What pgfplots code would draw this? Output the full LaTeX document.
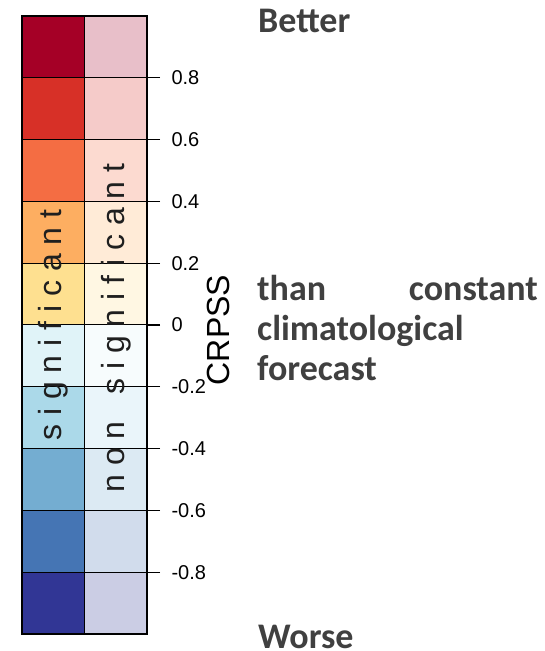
\documentclass[border=0pt]{standalone}
\usepackage{pgfplots}
\pgfplotsset{compat=1.18}
\usepackage{fontspec}
\setmainfont{Liberation Sans}
\newfontfamily\carlito{Carlito}
\definecolor{c1}{HTML}{A50026}
\definecolor{c2}{HTML}{D73027}
\definecolor{c3}{HTML}{F46D43}
\definecolor{c4}{HTML}{FDAE61}
\definecolor{c5}{HTML}{FEE090}
\definecolor{c6}{HTML}{E0F3F8}
\definecolor{c7}{HTML}{ABD9E9}
\definecolor{c8}{HTML}{74ADD1}
\definecolor{c9}{HTML}{4575B4}
\definecolor{c10}{HTML}{313695}
\definecolor{txtgray}{HTML}{404040}
\begin{document}
\begin{tikzpicture}
\useasboundingbox (-22bp,-17bp) rectangle (523bp,634bp);
\begin{axis}[
  scale only axis, width=125bp, height=618bp,
  at={(0,0)}, anchor=south west,
  xmin=0, xmax=2, ymin=-1, ymax=1,
  xtick=\empty,
  ytick={-0.8,-0.6,-0.4,-0.2,0,0.2,0.4,0.6,0.8},
  yticklabels={-0.8,-0.6,-0.4,-0.2,0,0.2,0.4,0.6,0.8},
  ytick pos=right, tick align=outside, major tick length=13bp,
  yticklabel style={font=\fontsize{20bp}{23bp}\selectfont, anchor=west, xshift=8bp},
  /pgf/number format/assume math mode=true,
  axis line style={line width=1.2bp},
  tick style={line width=1.2bp, black},
  clip=false,
  axis on top,
]
% significant column
\addplot[fill=c1, draw=black, line width=1bp] coordinates {(0,0.8) (1,0.8) (1,1) (0,1)} --cycle;
\addplot[fill=c2, draw=black, line width=1bp] coordinates {(0,0.6) (1,0.6) (1,0.8) (0,0.8)} --cycle;
\addplot[fill=c3, draw=black, line width=1bp] coordinates {(0,0.4) (1,0.4) (1,0.6) (0,0.6)} --cycle;
\addplot[fill=c4, draw=black, line width=1bp] coordinates {(0,0.2) (1,0.2) (1,0.4) (0,0.4)} --cycle;
\addplot[fill=c5, draw=black, line width=1bp] coordinates {(0,0) (1,0) (1,0.2) (0,0.2)} --cycle;
\addplot[fill=c6, draw=black, line width=1bp] coordinates {(0,-0.2) (1,-0.2) (1,0) (0,0)} --cycle;
\addplot[fill=c7, draw=black, line width=1bp] coordinates {(0,-0.4) (1,-0.4) (1,-0.2) (0,-0.2)} --cycle;
\addplot[fill=c8, draw=black, line width=1bp] coordinates {(0,-0.6) (1,-0.6) (1,-0.4) (0,-0.4)} --cycle;
\addplot[fill=c9, draw=black, line width=1bp] coordinates {(0,-0.8) (1,-0.8) (1,-0.6) (0,-0.6)} --cycle;
\addplot[fill=c10, draw=black, line width=1bp] coordinates {(0,-1) (1,-1) (1,-0.8) (0,-0.8)} --cycle;
% non significant column
\addplot[fill=c1!25!white, draw=black, line width=1bp] coordinates {(1,0.8) (2,0.8) (2,1) (1,1)} --cycle;
\addplot[fill=c2!25!white, draw=black, line width=1bp] coordinates {(1,0.6) (2,0.6) (2,0.8) (1,0.8)} --cycle;
\addplot[fill=c3!25!white, draw=black, line width=1bp] coordinates {(1,0.4) (2,0.4) (2,0.6) (1,0.6)} --cycle;
\addplot[fill=c4!25!white, draw=black, line width=1bp] coordinates {(1,0.2) (2,0.2) (2,0.4) (1,0.4)} --cycle;
\addplot[fill=c5!25!white, draw=black, line width=1bp] coordinates {(1,0) (2,0) (2,0.2) (1,0.2)} --cycle;
\addplot[fill=c6!25!white, draw=black, line width=1bp] coordinates {(1,-0.2) (2,-0.2) (2,0) (1,0)} --cycle;
\addplot[fill=c7!25!white, draw=black, line width=1bp] coordinates {(1,-0.4) (2,-0.4) (2,-0.2) (1,-0.2)} --cycle;
\addplot[fill=c8!25!white, draw=black, line width=1bp] coordinates {(1,-0.6) (2,-0.6) (2,-0.4) (1,-0.4)} --cycle;
\addplot[fill=c9!25!white, draw=black, line width=1bp] coordinates {(1,-0.8) (2,-0.8) (2,-0.6) (1,-0.6)} --cycle;
\addplot[fill=c10!25!white, draw=black, line width=1bp] coordinates {(1,-1) (2,-1) (2,-0.8) (1,-0.8)} --cycle;
\node[rotate=90, font=\fontsize{32bp}{36bp}\selectfont, text=black!88] at (axis cs:0.5,0) {s i g n i f i c a n t};
\node[rotate=90, font=\fontsize{32bp}{36bp}\selectfont, text=black!88] at (axis cs:1.5,-0.01) {n o n \ \ s i g n i f i c a n t};
\end{axis}
\node[rotate=90, font=\fontsize{32bp}{36bp}\selectfont, inner sep=0] at (196bp,304bp) {CRPSS};
\begin{scope}[every node/.style={inner sep=0, text=txtgray, font=\carlito\bfseries\fontsize{36bp}{40bp}\selectfont}]
\node[anchor=base west] at (236bp,601bp) {Better};
\node[anchor=base west] at (235bp,333bp) {than};
\node[anchor=base east] at (516bp,333bp) {constant};
\node[anchor=base west] at (235bp,293bp) {climatological};
\node[anchor=base west] at (235bp,253bp) {forecast};
\node[anchor=base west] at (236bp,-14bp) {Worse};
\end{scope}
\end{tikzpicture}
\end{document}
